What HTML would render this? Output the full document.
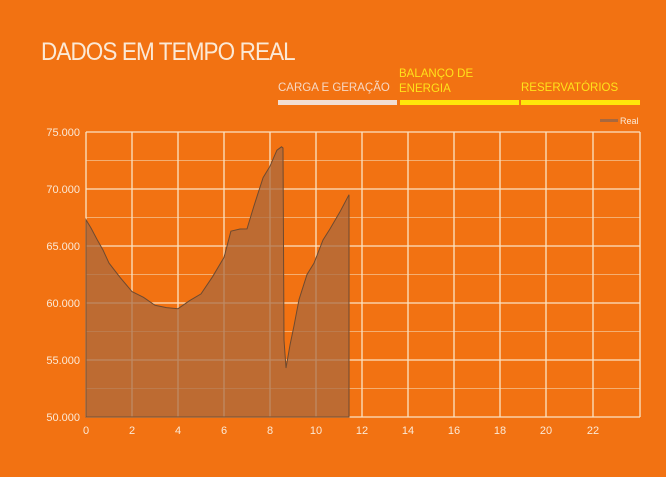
<!DOCTYPE html>
<html><head><meta charset="utf-8"><style>
html,body{margin:0;padding:0;background:#f27212;}
body{width:666px;height:477px;overflow:hidden;position:relative;font-family:"Liberation Sans",sans-serif;}
.t{position:absolute;color:#fbe9d6;}
</style></head><body>
<div class="t" style="left:41px;top:38px;font-size:25px;letter-spacing:-1px;transform:scaleX(0.9);transform-origin:0 0;">DADOS EM TEMPO REAL</div>
<div class="t" style="left:278px;top:82px;font-size:11.5px;color:#f6d8c4;">CARGA E GERAÇÃO</div>
<div class="t" style="left:399px;top:67px;font-size:11.5px;color:#ffe21a;line-height:15px;">BALANÇO DE<br>ENERGIA</div>
<div class="t" style="left:521px;top:82px;font-size:11.5px;color:#ffe21a;">RESERVATÓRIOS</div>
<div style="position:absolute;left:278px;top:100px;width:119px;height:5px;background:#f2ded2"></div>
<div style="position:absolute;left:400px;top:100px;width:119px;height:5px;background:#ffe60a"></div>
<div style="position:absolute;left:521px;top:100px;width:119px;height:5px;background:#ffe60a"></div>
<svg width="666" height="477" style="position:absolute;left:0;top:0" xmlns="http://www.w3.org/2000/svg">
<g stroke="#f6c89a" stroke-width="1" opacity="0.7">
<line x1="86" x2="640" y1="160.5" y2="160.5"/><line x1="86" x2="640" y1="217.5" y2="217.5"/><line x1="86" x2="640" y1="274.5" y2="274.5"/><line x1="86" x2="640" y1="331.5" y2="331.5"/><line x1="86" x2="640" y1="388.5" y2="388.5"/>
</g>
<g stroke="#fbe3c4" stroke-width="1.3">
<line x1="86" x2="640" y1="132" y2="132"/><line x1="86" x2="640" y1="189" y2="189"/><line x1="86" x2="640" y1="246" y2="246"/><line x1="86" x2="640" y1="303" y2="303"/><line x1="86" x2="640" y1="360" y2="360"/><line x1="86" x2="640" y1="417" y2="417"/>
<line x1="86" x2="86" y1="132" y2="417"/><line x1="132" x2="132" y1="132" y2="417"/><line x1="178" x2="178" y1="132" y2="417"/><line x1="224" x2="224" y1="132" y2="417"/><line x1="270" x2="270" y1="132" y2="417"/><line x1="316" x2="316" y1="132" y2="417"/><line x1="362" x2="362" y1="132" y2="417"/><line x1="408" x2="408" y1="132" y2="417"/><line x1="454" x2="454" y1="132" y2="417"/><line x1="500" x2="500" y1="132" y2="417"/><line x1="546" x2="546" y1="132" y2="417"/><line x1="593" x2="593" y1="132" y2="417"/><line x1="640" x2="640" y1="132" y2="417"/>
</g>
<path d="M86,219.8 L91,228 L97.5,240.3 L103,250 L109,263.1 L120.5,277.9 L132,291.6 L143.5,297.3 L155,305.3 L166.5,307.6 L178,308.7 L189.5,300.7 L201,293.9 L212.5,276.8 L224,257.4 L230.9,231.2 L240,229 L247,228.9 L253.9,206.1 L263.1,177.6 L270,166.2 L276.9,150.2 L281.5,146.8 L283,148 L284,340 L286,368 L290,345 L294,325.8 L299,299.6 L307,274.5 L314,263.1 L323,240 L330,228.9 L340,211.8 L349,194.7 L349,417 L86,417 Z" fill="#a8683e" fill-opacity="0.72" stroke="#6e4a30" stroke-width="1"/>
<g fill="#fbe9d6" font-size="11" font-family="Liberation Sans,sans-serif">
<text x="80" y="136" text-anchor="end">75.000</text><text x="80" y="193" text-anchor="end">70.000</text><text x="80" y="250" text-anchor="end">65.000</text><text x="80" y="307" text-anchor="end">60.000</text><text x="80" y="364" text-anchor="end">55.000</text><text x="80" y="421" text-anchor="end">50.000</text>
<g text-anchor="middle"><text x="86" y="434">0</text><text x="132" y="434">2</text><text x="178" y="434">4</text><text x="224" y="434">6</text><text x="270" y="434">8</text><text x="316" y="434">10</text><text x="362" y="434">12</text><text x="408" y="434">14</text><text x="454" y="434">16</text><text x="500" y="434">18</text><text x="546" y="434">20</text><text x="593" y="434">22</text></g>
<text x="620" y="124" font-size="9">Real</text>
</g>
<rect x="600" y="119" width="18" height="3" fill="#a8683e"/>
</svg>
</body></html>
